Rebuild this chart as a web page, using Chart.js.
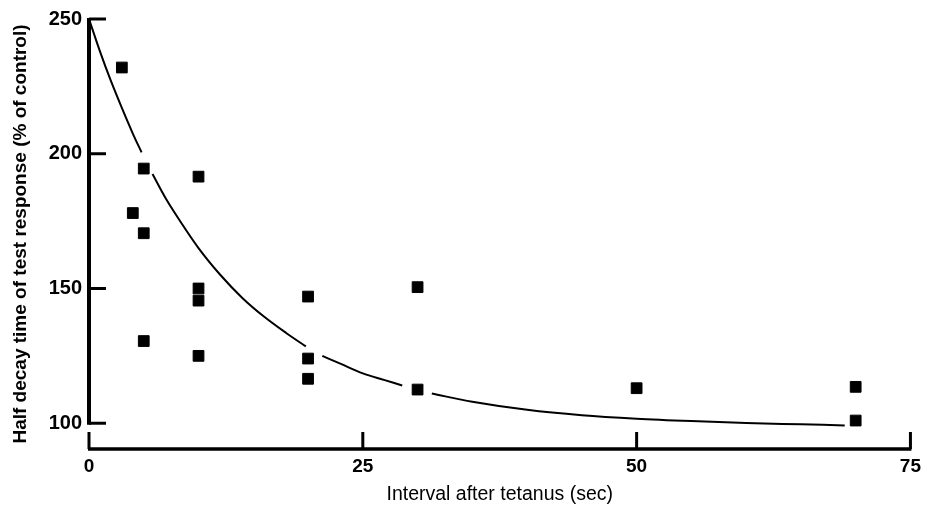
<!DOCTYPE html>
<html>
<head>
<meta charset="utf-8">
<script src="https://cdn.jsdelivr.net/npm/chart.js@4"></script>
<style>
  html, body { margin: 0; padding: 0; background: #fff; }
  #grafico { display: block; }
</style>
</head>
<body>
<canvas id="grafico" width="927" height="508"></canvas>
<script>
// pontos medidos (intervalo em s, meia-vida em % do controle)
const intervalos = [3, 4, 5, 5, 5, 10, 10, 10, 10, 20, 20, 20, 30, 30, 50, 70, 70];
const meiaVida = [232, 178, 194.5, 170.5, 130.5, 191.5, 150, 145.5, 125, 147, 124, 116.5, 150.5, 112.5, 113, 113.5, 101];

// curva ajustada (null = interrupcao da linha)
const curvaX = [0, 1, 2, 3, 4, 4.8, 5.3, 5.8, 7, 8, 10, 12, 14, 16, 18, 19.8, 20.5, 21.3, 23, 25, 27, 28.6, 30, 31.3, 35, 40, 45, 50, 55, 60, 65, 69];
const curvaY = [250, 238, 227, 217, 207.5, 200.5, null, 192.5, 183.5, 177, 165, 155, 146.5, 139.5, 133.5, 128.5, null, 125, 122, 118.5, 116, 114, null, 111, 108, 105, 103, 101.7, 100.8, 100.1, 99.6, 99.2];

const ticksX = [0, 25, 50, 75];
const ticksY = [100, 150, 200, 250];

const fonte = "'Liberation Sans', Arial, Helvetica, sans-serif";

// eixos desenhados a mao: eixo y so de 100 a 250, eixo x separado abaixo, marcas para dentro
const eixos = {
  id: 'eixos',
  afterDraw(chart) {
    const ctx = chart.ctx;
    const sx = chart.scales.x, sy = chart.scales.y;
    const x0 = sx.getPixelForValue(0);
    const yBase = chart.chartArea.bottom;
    ctx.save();
    ctx.strokeStyle = '#000';
    ctx.lineCap = 'butt';

    // eixo y
    ctx.lineWidth = 4;
    ctx.beginPath();
    ctx.moveTo(x0, sy.getPixelForValue(250) - 1);
    ctx.lineTo(x0, sy.getPixelForValue(100) + 1.5);
    ctx.stroke();
    ctx.lineWidth = 3;
    ticksY.forEach(v => {
      const p = sy.getPixelForValue(v);
      ctx.beginPath();
      ctx.moveTo(x0, p);
      ctx.lineTo(x0 + 17, p);
      ctx.stroke();
    });

    // eixo x
    ctx.lineWidth = 3.5;
    ctx.beginPath();
    ctx.moveTo(x0 - 1, yBase);
    ctx.lineTo(sx.getPixelForValue(75) + 1, yBase);
    ctx.stroke();
    ctx.lineWidth = 3;
    ticksX.forEach(v => {
      const p = sx.getPixelForValue(v);
      ctx.beginPath();
      ctx.moveTo(p, yBase);
      ctx.lineTo(p, yBase - 17);
      ctx.stroke();
    });
    ctx.restore();
  }
};

new Chart(document.getElementById('grafico'), {
  type: 'scatter',
  data: {
    datasets: [{
      label: 'curva',
      type: 'line',
      data: curvaX.map((x, i) => ({ x: x, y: curvaY[i] })),
      borderColor: '#000',
      borderWidth: 2,
      pointRadius: 0,
      fill: false,
      spanGaps: false,
      cubicInterpolationMode: 'monotone'
    }, {
      label: 'medidas',
      data: intervalos.map((x, i) => ({ x: x, y: meiaVida[i] })),
      pointStyle: 'rect',
      pointRadius: 7.6,
      backgroundColor: '#000',
      borderColor: '#000',
      borderWidth: 1
    }]
  },
  options: {
    responsive: false,
    animation: false,
    layout: {
      padding: { left: 0, top: 15, right: 16, bottom: 0 }
    },
    plugins: {
      legend: { display: false },
      tooltip: { enabled: false }
    },
    scales: {
      x: {
        type: 'linear',
        min: 0,
        max: 75,
        afterBuildTicks: s => { s.ticks = ticksX.map(v => ({ value: v })); },
        afterFit: s => { s.height = 59; },
        grid: { display: false, drawTicks: false },
        border: { display: false },
        ticks: {
          color: '#000',
          padding: 6,
          maxRotation: 0,
          font: { family: fonte, size: 19, weight: 'bold' }
        },
        title: {
          display: true,
          text: 'Interval after tetanus (sec)',
          color: '#000',
          padding: { top: 0, bottom: 2 },
          font: { family: fonte, size: 19.5 }
        }
      },
      y: {
        type: 'linear',
        min: 90.44,
        max: 250,
        afterBuildTicks: s => { s.ticks = ticksY.map(v => ({ value: v })); },
        afterFit: s => { s.width = 89; },
        grid: { display: false, drawTicks: false },
        border: { display: false },
        ticks: {
          color: '#000',
          padding: 7,
          font: { family: fonte, size: 20, weight: 'bold' }
        },
        title: {
          display: true,
          text: 'Half decay time of test response (% of control)',
          color: '#000',
          padding: { top: 9, bottom: 0 },
          font: { family: fonte, size: 19, weight: 'bold' }
        }
      }
    }
  },
  plugins: [eixos]
});
</script>
</body>
</html>
